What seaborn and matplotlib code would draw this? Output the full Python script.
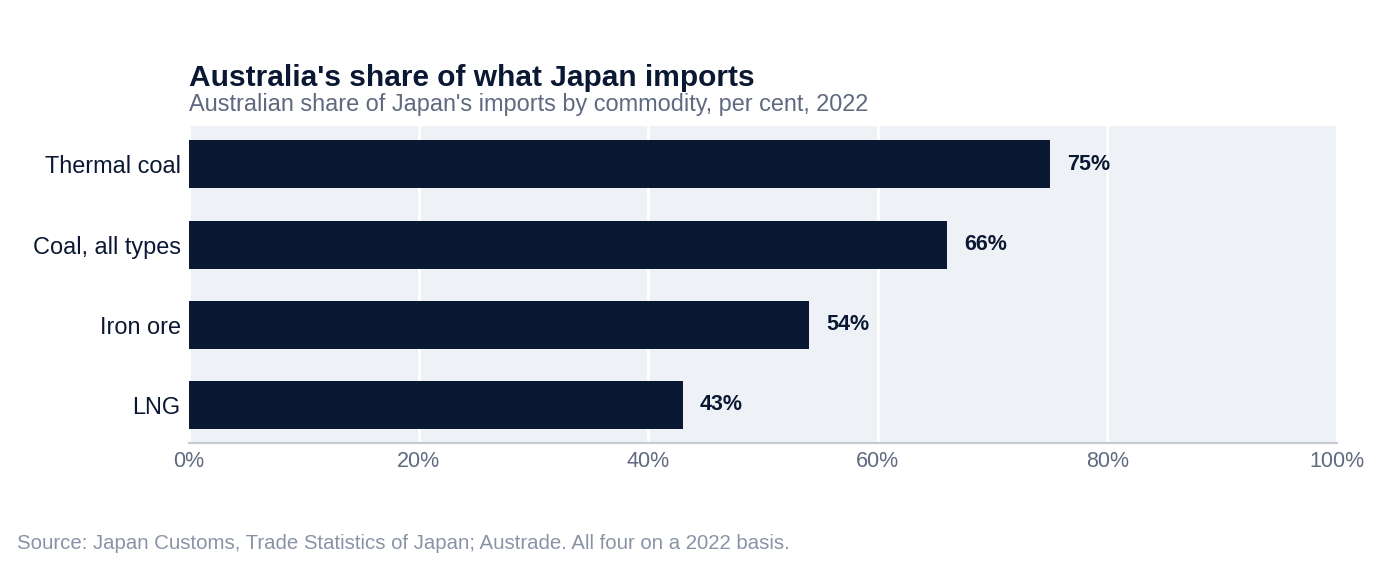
import matplotlib
matplotlib.use("Agg")
import matplotlib.pyplot as plt
import seaborn as sns
import pandas as pd

commodities = ["Thermal coal", "Coal, all types", "Iron ore", "LNG"]
share = [75, 66, 54, 43]
xticks = [0, 20, 40, 60, 80, 100]

navy = "#0b1833"
grey = "#5f6a80"

sns.set_theme(style="darkgrid")
plt.rcParams["font.family"] = ["Liberation Sans", "DejaVu Sans"]

df = pd.DataFrame({"commodity": commodities, "share": share})

fig = plt.figure(figsize=(14, 5.64), dpi=100)
ax = fig.add_axes([0.135, 0.2145, 0.82, 0.562])
ax.set_facecolor("#eef1f6")

sns.barplot(data=df, x="share", y="commodity", color=navy, width=0.6,
            saturation=1, linewidth=0, ax=ax, zorder=3)

ax.set_xlim(0, 100)
ax.set_ylim(3.48, -0.48)
ax.set_xticks(xticks)
ax.set_xticklabels([f"{t}%" for t in xticks], fontsize=15.5, color=grey)
ax.tick_params(axis="y", labelsize=16.9, labelcolor=navy, length=0, pad=6)
ax.tick_params(axis="x", length=0, pad=6)
ax.grid(axis="x", color="white", linewidth=2)
ax.grid(axis="y", visible=False)
ax.set_xlabel("")
ax.set_ylabel("")
for s in ["top", "right", "left"]:
    ax.spines[s].set_visible(False)
ax.spines["bottom"].set_visible(True)
ax.spines["bottom"].set_color("#c5cad3")
ax.spines["bottom"].set_linewidth(1.5)

for i, v in enumerate(share):
    ax.text(v + 1.5, i, f"{v}%", va="center", ha="left", fontsize=15.5,
            fontweight="bold", color=navy)

fig.text(0.135, 0.836, "Australia's share of what Japan imports", fontsize=21.5,
         fontweight="bold", color=navy, va="bottom")
fig.text(0.135, 0.7935, "Australian share of Japan's imports by commodity, per cent, 2022",
         fontsize=16.9, color=grey, va="bottom")
fig.text(0.012, 0.019, "Source: Japan Customs, Trade Statistics of Japan; Austrade. All four on a 2022 basis.",
         fontsize=14.7, color="#8a93a6", va="bottom")

fig.savefig("out.png", dpi=100, facecolor="white")
